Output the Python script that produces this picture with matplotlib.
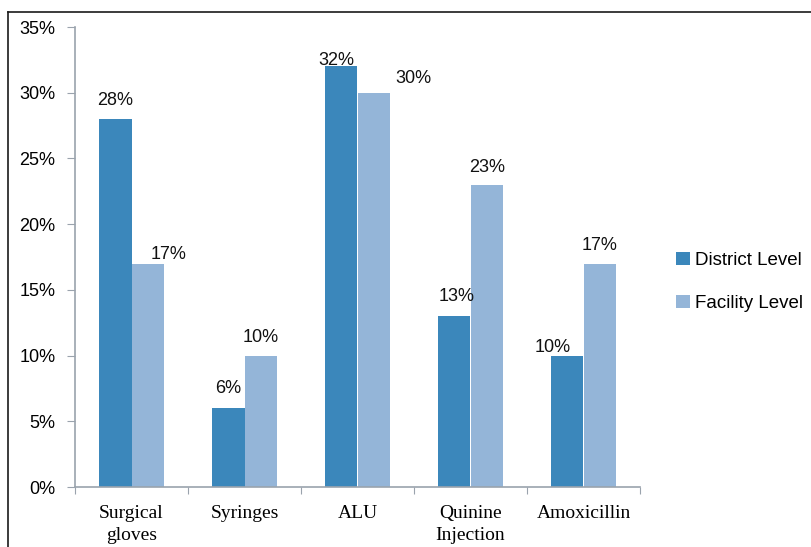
import matplotlib
matplotlib.use("Agg")
import matplotlib.pyplot as plt
from matplotlib.lines import Line2D
import numpy as np

categories = ["Surgical\ngloves", "Syringes", "ALU", "Quinine\nInjection", "Amoxicillin"]
district_level = [28, 6, 32, 13, 10]
facility_level = [17, 10, 30, 23, 17]
series_names = ["District Level", "Facility Level"]
y_ticks = [0, 5, 10, 15, 20, 25, 30, 35]

# label nudges in pixels (dx, dy above the bar top)
district_nudge = [(0, 14), (0, 15), (-5, 1), (2, 15), (-15, 4)]
facility_nudge = [(21, 5), (0, 14), (40, 10), (0, 13), (0, 14)]

dark_blue = "#3B87BB"
light_blue = "#94B5D8"
spine_grey = "#9AA3AD"

W, H = 811, 547
fig = plt.figure(figsize=(W / 100, H / 100), dpi=100)
ax = fig.add_axes([75 / W, 1 - 487 / H, (640 - 75) / W, (487 - 27) / H])

x = np.arange(len(categories)) + 0.5
bw = 0.288
b1 = ax.bar(x - bw / 2, district_level, bw, color=dark_blue, label=series_names[0], zorder=2)
b2 = ax.bar(x + bw / 2, facility_level, bw, color=light_blue, label=series_names[1], zorder=2)

sans = "Liberation Sans"
for bars, vals, nudges in ((b1, district_level, district_nudge), (b2, facility_level, facility_nudge)):
    for rect, v, (dx, dy) in zip(bars, vals, nudges):
        ax.annotate(f"{v}%", (rect.get_x() + rect.get_width() / 2, v),
                    xytext=(dx, dy), textcoords="offset pixels",
                    ha="center", va="baseline", fontsize=13, family=sans,
                    color="#111111", zorder=3)

ax.set_xlim(0, len(categories))
ax.set_ylim(0, 35)
ax.set_yticks(y_ticks)
ax.set_yticklabels([f"{t}%" for t in y_ticks], family=sans, fontsize=13)
ax.set_xticks(np.arange(len(categories) + 1))
ax.set_xticklabels([])
ax.set_xticks(x, minor=True)
ax.set_xticklabels(categories, minor=True, family="Liberation Serif", fontsize=14,
                   linespacing=1.35)
ax.tick_params(axis="x", which="minor", length=0, pad=13)
ax.tick_params(axis="x", which="major", length=5, color=spine_grey, direction="out")
ax.tick_params(axis="y", length=6, color=spine_grey, direction="out", pad=8)

for s in ("top", "right"):
    ax.spines[s].set_visible(False)
for s in ("left", "bottom"):
    ax.spines[s].set_color(spine_grey)
    ax.spines[s].set_linewidth(1.2)

leg = fig.legend(handles=[b1, b2], loc="center left",
                 bbox_to_anchor=(676 / W, 1 - 282 / H), frameon=False,
                 prop={"family": sans, "size": 13.5}, handlelength=0.72,
                 handleheight=0.72, handletextpad=0.3, labelspacing=1.35,
                 borderpad=0, borderaxespad=0)

# outer frame (left and top edges)
fig.add_artist(Line2D([8 / W, 8 / W], [0, 1 - 12 / H], color="#1a1a1a", lw=1.2,
                      transform=fig.transFigure))
fig.add_artist(Line2D([8 / W, 1], [1 - 12 / H, 1 - 12 / H], color="#1a1a1a", lw=1.2,
                      transform=fig.transFigure))

fig.savefig("out.png", dpi=100)
